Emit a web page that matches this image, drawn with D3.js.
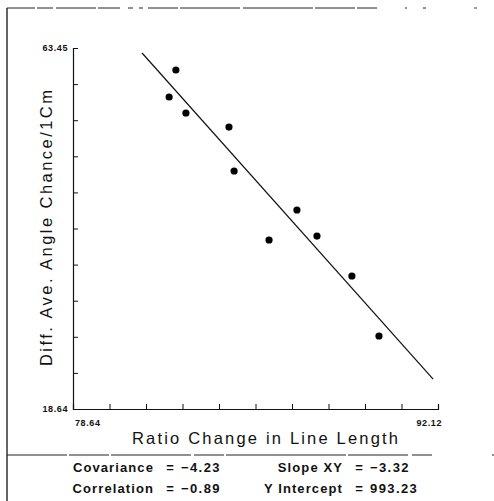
<!DOCTYPE html>
<html lang="en">
    <head>
        <meta charset="utf-8">
        <title>Ratio Change scatter</title>
        <script src="https://d3js.org/d3.v7.min.js"></script>
        <style>
            body { margin: 0; background: #fff; }
            text { font-family: "Liberation Sans", Arial, sans-serif; fill: #111; }
        </style>
    </head>
    <body>
        <div class="plot"></div>
        <script type="text/javascript">
            // values
            const xDomain = [78.64, 92.12];
            const yDomain = [18.64, 63.45];
            const ratioChange = [82.44, 82.19, 82.81, 84.40, 84.59, 85.88, 86.91, 87.65, 88.94, 89.94];
            const angleChange = [60.72, 57.37, 55.38, 53.64, 48.18, 39.62, 43.34, 40.11, 35.15, 27.70];
            const fitX = [81.19, 91.94];
            const fitY = [62.83, 22.36];
            const statNames = ['Covariance', 'Correlation', 'Slope XY', 'Y Intercept'];
            const statValues = ['\u22124.23', '\u22120.89', '\u22123.32', '993.23'];

            const width = 494;
            const height = 501;
            const svg = d3.select('.plot')
                .append('svg')
                .attr('width', width)
                .attr('height', height);

            const x = d3.scaleLinear().domain(xDomain).range([73, 438]);
            const y = d3.scaleLinear().domain(yDomain).range([409, 48]);

            // page frame
            svg.append('line')
                .attr('x1', 7).attr('y1', 8).attr('x2', 7).attr('y2', 501)
                .attr('stroke', '#111').attr('stroke-width', 1.3);
            svg.append('line')
                .attr('x1', 7).attr('y1', 8).attr('x2', 446).attr('y2', 8)
                .attr('stroke', '#222').attr('stroke-width', 1)
                .attr('stroke-dasharray', '28,2,16,3,40,2,22,8,5,6,4,5,30,2,60,3,70,2,40,2,20');
            svg.append('line')
                .attr('x1', 474).attr('y1', 8).attr('x2', 477).attr('y2', 8)
                .attr('stroke', '#444').attr('stroke-width', 1);
            svg.append('line')
                .attr('x1', 7).attr('y1', 455).attr('x2', 494).attr('y2', 455)
                .attr('stroke', '#222').attr('stroke-width', 1)
                .attr('stroke-dasharray', '60,2,40,2,80,3,30,2,120,2,60,4,20');

            const xTicks = d3.range(11).map(i => xDomain[0] + i * (xDomain[1] - xDomain[0]) / 10);
            const yTicks = d3.range(11).map(i => yDomain[0] + i * (yDomain[1] - yDomain[0]) / 10);

            const xAxis = svg.append('g')
                .attr('transform', 'translate(0,409)')
                .call(d3.axisBottom(x).tickValues(xTicks).tickSize(-5).tickFormat(''));
            const yAxis = svg.append('g')
                .attr('transform', 'translate(73,0)')
                .call(d3.axisLeft(y).tickValues(yTicks).tickSize(-5).tickFormat(''));
            [xAxis, yAxis].forEach(g => {
                g.select('.domain').attr('stroke', '#111').attr('stroke-width', 1.2);
                g.selectAll('.tick line').attr('stroke', '#111').attr('stroke-width', 1);
            });

            // end labels
            const endLabel = (xx, yy, anchor, v) => svg.append('text')
                .attr('x', xx).attr('y', yy)
                .attr('text-anchor', anchor)
                .attr('font-size', 9).attr('font-weight', 'bold')
                .attr('letter-spacing', 0.6)
                .text(v.toFixed(2));
            endLabel(68, y(yDomain[1]) + 3, 'end', yDomain[1]);
            endLabel(68, y(yDomain[0]) + 3, 'end', yDomain[0]);
            endLabel(x(xDomain[0]) + 2, 426, 'start', xDomain[0]);
            endLabel(x(xDomain[1]) + 4, 426, 'end', xDomain[1]);

            // axis titles
            svg.append('text')
                .attr('x', 132).attr('y', 444)
                .attr('font-size', 16.5)
                .attr('textLength', 266).attr('lengthAdjust', 'spacing')
                .text('Ratio Change in Line Length');
            svg.append('text')
                .attr('transform', 'translate(52,366) rotate(-90)')
                .attr('font-size', 16.5)
                .attr('textLength', 276).attr('lengthAdjust', 'spacing')
                .text('Diff. Ave. Angle Chance/1Cm');

            // fitted line
            svg.append('line')
                .attr('x1', x(fitX[0])).attr('y1', y(fitY[0]))
                .attr('x2', x(fitX[1])).attr('y2', y(fitY[1]))
                .attr('stroke', '#111').attr('stroke-width', 1.2);

            svg.selectAll('circle')
                .data(ratioChange)
                .enter()
                .append('circle')
                .attr('cx', d => x(d))
                .attr('cy', (d, i) => y(angleChange[i]))
                .attr('r', 3.6)
                .attr('fill', '#000');

            // statistics block
            const statCols = [154, 343];
            statNames.forEach((name, i) => {
                const col = Math.floor(i / 2);
                const row = i % 2;
                const yy = 472 + row * 21;
                const cx = statCols[col];
                svg.append('text').attr('x', cx).attr('y', yy)
                    .attr('text-anchor', 'end').attr('font-size', 13).attr('font-weight', 'bold')
                    .attr('letter-spacing', 1.1)
                    .text(name);
                svg.append('text').attr('x', cx + 16).attr('y', yy)
                    .attr('text-anchor', 'middle').attr('font-size', 13).attr('font-weight', 'bold')
                    .text('=');
                svg.append('text').attr('x', cx + 27).attr('y', yy)
                    .attr('font-size', 13).attr('font-weight', 'bold')
                    .attr('letter-spacing', 1.4)
                    .text(statValues[i]);
            });
        </script>
    </body>
</html>
